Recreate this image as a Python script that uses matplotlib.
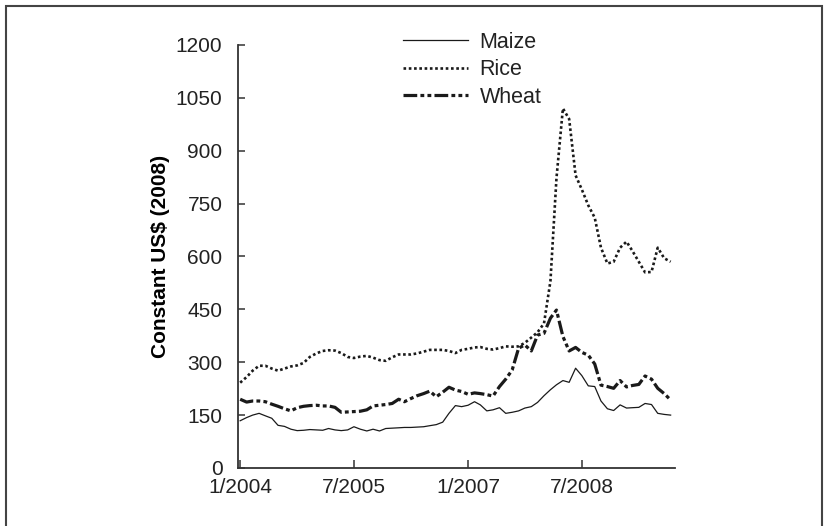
import numpy as np
import pandas as pd
import matplotlib
matplotlib.use("Agg")
import matplotlib.pyplot as plt
from matplotlib.patches import Rectangle

# monthly prices, constant US$ (2008), Jan 2004 - Sep 2009
maize = [134, 143, 150, 155, 148, 141, 121, 118, 110, 106,
         107, 109, 108, 107, 112, 108, 106, 108, 117, 110,
         105, 110, 105, 112, 113, 114, 115, 115, 116, 117,
         120, 123, 130, 155, 177, 174, 178, 188, 179, 162,
         165, 171, 155, 158, 162, 170, 174, 186, 205, 222,
         236, 248, 243, 283, 262, 233, 231, 190, 168, 163,
         179, 170, 171, 172, 183, 180, 155, 152, 150]
rice = [242, 258, 276, 290, 290, 282, 276, 282, 288, 291,
        298, 315, 325, 332, 334, 333, 326, 315, 312, 316,
        318, 313, 306, 304, 314, 322, 322, 322, 325, 330,
        335, 335, 335, 332, 326, 335, 338, 342, 343, 338,
        336, 340, 345, 344, 345, 355, 370, 385, 410, 530,
        822, 1020, 990, 830, 790, 745, 710, 625, 580, 585,
        625, 642, 616, 585, 555, 556, 625, 595, 585]
wheat = [195, 187, 190, 190, 188, 181, 175, 168, 162, 171,
         175, 177, 178, 176, 176, 172, 158, 159, 160, 161,
         165, 176, 178, 180, 183, 195, 188, 197, 205, 211,
         218, 202, 215, 229, 221, 217, 209, 213, 211, 208,
         204, 231, 252, 278, 340, 349, 332, 377, 382, 425,
         448, 373, 332, 342, 328, 320, 295, 235, 231, 226,
         248, 230, 234, 237, 261, 252, 226, 211, 193]
months = pd.date_range("2004-01-01", periods=len(maize), freq="MS")
xtick_dates = pd.to_datetime(["2004-01-01", "2005-07-01", "2007-01-01", "2008-07-01"])
xtick_labels = ["1/2004", "7/2005", "1/2007", "7/2008"]
yticks = [0, 150, 300, 450, 600, 750, 900, 1050, 1200]

plt.rcParams.update({"font.family": ["Liberation Sans", "DejaVu Sans"], "font.size": 15,
                     "text.color": "#222222", "axes.edgecolor": "#333333",
                     "xtick.color": "#333333", "ytick.color": "#333333"})

INK = "#1a1a1a"
fig = plt.figure(figsize=(8.27, 5.26), dpi=100)
ax = fig.add_axes([0.2874, 0.1103, 0.5288, 0.8042])

ax.plot(months, maize, color=INK, lw=0.9, label="Maize")
ax.plot(months, rice, color=INK, lw=1.9, linestyle=(0, (1, 1)), label="Rice")
ax.plot(months, wheat, color=INK, lw=2.3,
        linestyle=(0, (4.3, 1, 1.2, 1, 1.2, 1)), label="Wheat")

ax.set_ylim(0, 1200)
ax.set_xlim(pd.Timestamp("2003-12-20"), pd.Timestamp("2009-09-22"))
ax.set_yticks(yticks)
ax.set_xticks(xtick_dates)
ax.set_xticklabels(xtick_labels)
ax.tick_params(axis="y", direction="in", length=5, width=1.1, pad=11, labelsize=15,
               labelcolor="#222222")
ax.tick_params(axis="x", direction="in", length=6, width=1.1, pad=7, labelsize=15,
               labelcolor="#222222")
for s in ("top", "right"):
    ax.spines[s].set_visible(False)
for s in ("left", "bottom"):
    ax.spines[s].set_linewidth(1.3)

ax.set_ylabel("Constant US$ (2008)", fontweight="bold", fontsize=15)
ax.yaxis.set_label_coords(-0.155, 0.5)

leg = ax.legend(loc="upper left", bbox_to_anchor=(403 / 827, 1 - 32 / 526),
                bbox_transform=fig.transFigure, frameon=False, borderpad=0,
                borderaxespad=0, handlelength=3.0, handletextpad=0.55,
                labelspacing=0.3, fontsize=15.5)

fig.patches.append(Rectangle((5.5 / 827, -0.02), 816 / 827, 1 - 5.5 / 526 + 0.02,
                             transform=fig.transFigure, fill=False,
                             edgecolor="#444444", lw=1.5, clip_on=False))

fig.savefig("out.png", dpi=100)
